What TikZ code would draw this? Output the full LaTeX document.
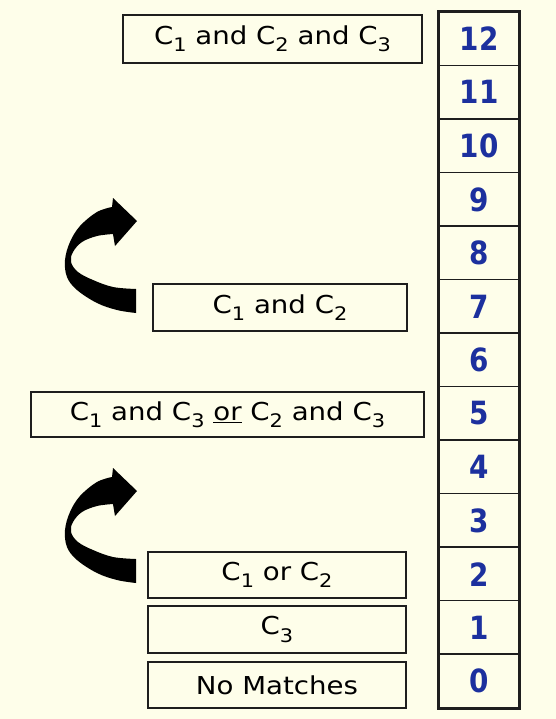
\documentclass[tikz,border=0pt]{standalone}
\usepackage{fontspec}
\usepackage{graphicx}
\setmainfont{DejaVu Sans}
\definecolor{bg}{RGB}{254,254,234}
\definecolor{numblue}{RGB}{28,48,158}
\definecolor{edge}{RGB}{30,30,30}
\newcommand\sbx[1]{\raisebox{-0.55ex}{\fontsize{14pt}{14pt}\selectfont #1}}
\newcommand\lbl[1]{\scalebox{1.12}[1]{#1}}
\newcommand\numtxt[1]{\scalebox{0.87}[1]{#1}}
\tikzset{
  lab/.style={draw=edge, line width=1.1pt, inner sep=0pt, rectangle,
    font=\fontsize{18.5pt}{20pt}\selectfont},
  cell/.style={inner sep=0pt, rectangle,
    minimum width={80*0.75pt}, minimum height={53.54*0.75pt},
    text=numblue, font=\fontsize{24pt}{24pt}\selectfont\bfseries},
  rule/.style={draw=edge, line width=1.1pt},
  curlarrow/.pic={
    \fill[black] (137,221) -- (113,198) --
      plot[smooth, tension=0.6] coordinates {(112,207) (97,212) (80,226) (70,242) (65,260) (67,277) (77,290) (97,303) (117,310) (136,313)}
      -- plot[smooth, tension=0.6] coordinates {(136,289) (113,287) (93,280) (78,272) (71,262) (73,252) (82,242) (97,236) (113,234)}
      -- (115,246) -- cycle;
  }
}
\begin{document}
\begin{tikzpicture}[x=0.75pt,y=-0.75pt]
\path[use as bounding box, fill=bg] (0,0) rectangle (556,719);

% number column
\foreach \v/\k in {12/0,11/1,10/2,9/3,8/4,7/5,6/6,5/7,4/8,3/9,2/10,1/11,0/12}{
  \node[cell] (n\v) at (479, {38.77+53.54*\k}) {\numtxt{\v}};
}
\foreach \v in {11,10,9,8,7,6,5,4,3,2,1,0}{
  \draw[rule] (n\v.north west) -- (n\v.north east);
}
\draw[edge, line width=2.3pt] (n12.north west) rectangle (n0.south east);

% label boxes
\node[lab, minimum width={299*0.75pt}, minimum height={48*0.75pt}] (b123) at (272.5,39)
  {\lbl{C\sbx{1} and C\sbx{2} and C\sbx{3}}};
\node[lab, minimum width={254*0.75pt}, minimum height={47*0.75pt}] (b12) at (280,307.5)
  {\lbl{C\sbx{1} and C\sbx{2}}};
\node[lab, minimum width={393*0.75pt}, minimum height={45*0.75pt}] (b13) at (227.5,414.5)
  {\lbl{C\sbx{1} and C\sbx{3} \underline{or} C\sbx{2} and C\sbx{3}}};
\node[lab, minimum width={258*0.75pt}, minimum height={46*0.75pt}] (bor) at (277,575)
  {\lbl{C\sbx{1} or C\sbx{2}}};
\node[lab, minimum width={258*0.75pt}, minimum height={47*0.75pt}] (b3) at (277,629.5)
  {\lbl{C\sbx{3}}};
\node[lab, minimum width={258*0.75pt}, minimum height={46*0.75pt}] (bnm) at (277,685)
  {\lbl{No Matches}};

% curved arrows
\pic at (0,0) {curlarrow};
\pic at (0,270) {curlarrow};
\end{tikzpicture}
\end{document}
